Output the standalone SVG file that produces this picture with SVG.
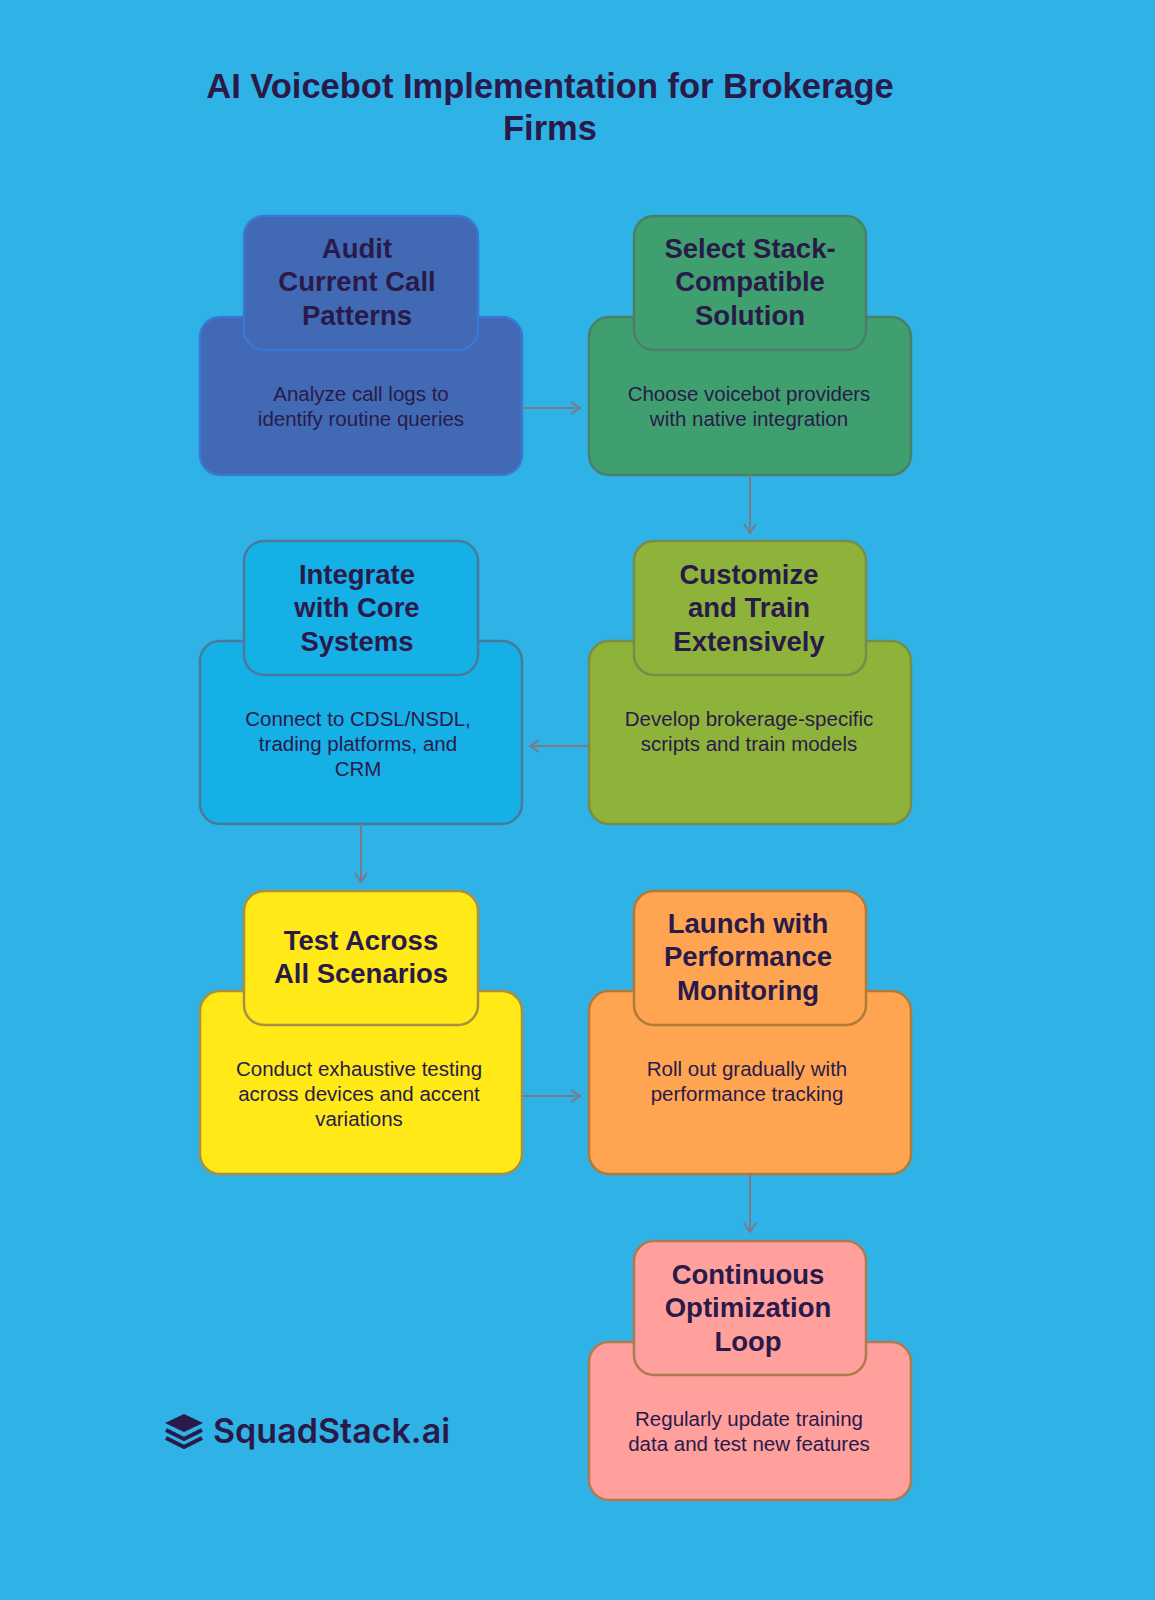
<svg xmlns="http://www.w3.org/2000/svg" width="1155" height="1600" viewBox="0 0 1155 1600">
<style>
.t{font-family:"Liberation Sans",Arial,sans-serif;font-weight:bold;font-size:27.5px;fill:#2a1a4a;text-anchor:middle}
.b{font-family:"Liberation Sans",Arial,sans-serif;font-size:20.5px;fill:#2a1a4a;text-anchor:middle}
.h{font-family:"Liberation Sans",Arial,sans-serif;font-weight:bold;font-size:34.5px;fill:#2a1a4a;text-anchor:middle}
rect{stroke-width:2.5}
.c{stroke:#7a7a8a;stroke-width:2;fill:none}
</style>
<defs><marker id="a" markerWidth="12" markerHeight="14" refX="10" refY="7" orient="auto" markerUnits="userSpaceOnUse"><path d="M1,1 L10,7 L1,13" fill="none" stroke="#7a7a8a" stroke-width="2"/></marker></defs>
<rect width="1155" height="1600" fill="#2fb3e6" stroke="none"/>
<text class="h" x="550" y="98">AI Voicebot Implementation for Brokerage</text>
<text class="h" x="550" y="140">Firms</text>
<g id="n1"><rect x="200" y="317" width="322" height="158" rx="20" fill="#4169b4" stroke="#3a78d8"/><rect x="244" y="216" width="234" height="134" rx="20" fill="#4169b4" stroke="#3a78d8"/>
<text class="t" x="357" y="258">Audit</text><text class="t" x="357" y="291">Current Call</text><text class="t" x="357" y="325">Patterns</text>
<text class="b" x="361" y="401">Analyze call logs to</text><text class="b" x="361" y="426">identify routine queries</text></g>
<g id="n2"><rect x="589" y="317" width="322" height="158" rx="20" fill="#3f9f6f" stroke="#4a7f6a"/><rect x="634" y="216" width="232" height="134" rx="20" fill="#3f9f6f" stroke="#4a7f6a"/>
<text class="t" x="750" y="258">Select Stack-</text><text class="t" x="750" y="291">Compatible</text><text class="t" x="750" y="325">Solution</text>
<text class="b" x="749" y="401">Choose voicebot providers</text><text class="b" x="749" y="426">with native integration</text></g>
<g id="n3"><rect x="200" y="641" width="322" height="183" rx="20" fill="#15b0e6" stroke="#4a7a9a"/><rect x="244" y="541" width="234" height="134" rx="20" fill="#15b0e6" stroke="#4a7a9a"/>
<text class="t" x="357" y="584">Integrate</text><text class="t" x="357" y="617">with Core</text><text class="t" x="357" y="651">Systems</text>
<text class="b" x="358" y="726">Connect to CDSL/NSDL,</text><text class="b" x="358" y="751">trading platforms, and</text><text class="b" x="358" y="776">CRM</text></g>
<g id="n4"><rect x="589" y="641" width="322" height="183" rx="20" fill="#8db33a" stroke="#7a8a4a"/><rect x="634" y="541" width="232" height="134" rx="20" fill="#8db33a" stroke="#7a8a4a"/>
<text class="t" x="749" y="584">Customize</text><text class="t" x="749" y="617">and Train</text><text class="t" x="749" y="651">Extensively</text>
<text class="b" x="749" y="726">Develop brokerage-specific</text><text class="b" x="749" y="751">scripts and train models</text></g>
<g id="n5"><rect x="200" y="991" width="322" height="183" rx="20" fill="#ffe916" stroke="#a89040"/><rect x="244" y="891" width="234" height="134" rx="20" fill="#ffe916" stroke="#a89040"/>
<text class="t" x="361" y="950">Test Across</text><text class="t" x="361" y="983">All Scenarios</text>
<text class="b" x="359" y="1076">Conduct exhaustive testing</text><text class="b" x="359" y="1101">across devices and accent</text><text class="b" x="359" y="1126">variations</text></g>
<g id="n6"><rect x="589" y="991" width="322" height="183" rx="20" fill="#ffa552" stroke="#b07a3a"/><rect x="634" y="891" width="232" height="134" rx="20" fill="#ffa552" stroke="#b07a3a"/>
<text class="t" x="748" y="933">Launch with</text><text class="t" x="748" y="966">Performance</text><text class="t" x="748" y="1000">Monitoring</text>
<text class="b" x="747" y="1076">Roll out gradually with</text><text class="b" x="747" y="1101">performance tracking</text></g>
<g id="n7"><rect x="589" y="1342" width="322" height="158" rx="20" fill="#ffa09c" stroke="#b07a50"/><rect x="634" y="1241" width="232" height="134" rx="20" fill="#ffa09c" stroke="#b07a50"/>
<text class="t" x="748" y="1284">Continuous</text><text class="t" x="748" y="1317">Optimization</text><text class="t" x="748" y="1351">Loop</text>
<text class="b" x="749" y="1426">Regularly update training</text><text class="b" x="749" y="1451">data and test new features</text></g>
<g id="connectors">
<path class="c" d="M522,408 H580" marker-end="url(#a)"/>
<path class="c" d="M750,475 V533" marker-end="url(#a)"/>
<path class="c" d="M589,746 H530" marker-end="url(#a)"/>
<path class="c" d="M361,824 V882" marker-end="url(#a)"/>
<path class="c" d="M522,1096 H580" marker-end="url(#a)"/>
<path class="c" d="M750,1174 V1232" marker-end="url(#a)"/>
</g>
<g id="logo">
<path d="M184,1414 L203,1423 L184,1432 L165,1423 Z" fill="#2a1a4a"/>
<path d="M166,1430 L184,1439 L202,1430 M166,1438 L184,1447 L202,1438" fill="none" stroke="#2a1a4a" stroke-width="4" stroke-linejoin="round"/>
<text x="213" y="1443" font-family="Inter,'Liberation Sans',sans-serif" font-size="34" font-weight="600" fill="#2a1a4a">SquadStack.ai</text>
</g>
</svg>
